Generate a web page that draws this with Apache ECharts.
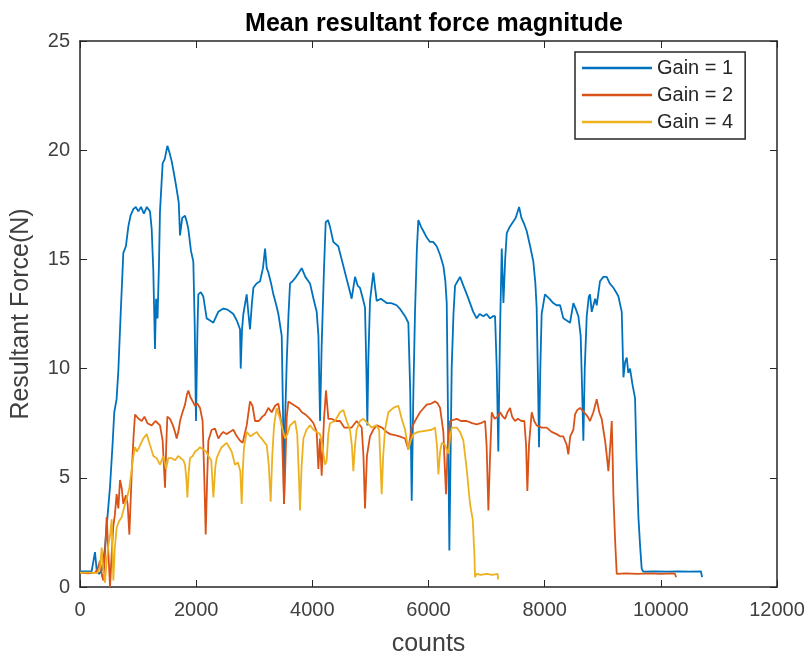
<!DOCTYPE html>
<html>
<head>
<meta charset="utf-8">
<script src="https://cdn.jsdelivr.net/npm/echarts@6/dist/echarts.min.js"></script>
<style>
html,body{margin:0;padding:0;background:#fff;}
#chart{width:810px;height:662px;}
</style>
</head>
<body>
<div id="chart"></div>
<script>
const seriesNames = ['Gain = 1', 'Gain = 2', 'Gain = 4'];
const seriesColors = ['#0072BD', '#D95319', '#EDB120'];
const xTicks = [0, 2000, 4000, 6000, 8000, 10000, 12000];
const yTicks = [0, 5, 10, 15, 20, 25];

const gain1Counts = [0,200,258,290,330,380,430,460,517,560,590,630,660,700,746,790,832,870,918,960,1004,1050,1100,1150,1205,1234,1262,1291,1310,1335,1360,1377,1423,1460,1504,1540,1578,1620,1665,1700,1722,1760,1808,1840,1865,1910,1951,1975,1997,2020,2037,2080,2123,2181,2240,2296,2380,2468,2540,2640,2700,2755,2767,2790,2812,2870,2900,2927,2960,2985,3040,3100,3150,3186,3215,3243,3290,3329,3380,3415,3473,3495,3513,3530,3559,3590,3616,3660,3720,3770,3817,3880,3960,4020,4075,4105,4133,4160,4200,4230,4270,4304,4361,4447,4505,4591,4640,4677,4735,4780,4820,4870,4907,4930,4947,4965,4993,5050,5108,5180,5280,5360,5452,5520,5596,5653,5685,5711,5740,5768,5800,5825,5870,5911,5970,6026,6080,6141,6200,6256,6290,6314,6335,6359,6380,6399,6430,6457,6500,6543,6600,6660,6715,6770,6830,6880,6945,7000,7060,7110,7146,7175,7202,7230,7261,7290,7320,7347,7400,7433,7500,7560,7600,7650,7691,7750,7805,7840,7862,7885,7903,7925,7948,8005,8080,8148,8205,8265,8322,8380,8437,8494,8540,8580,8620,8645,8666,8690,8724,8760,8781,8810,8838,8870,8896,8953,9010,9068,9120,9183,9230,9270,9327,9356,9385,9413,9440,9470,9510,9556,9580,9614,9645,9671,9700,9900,10100,10300,10500,10690,10710];
const gain1Force = [0.72,0.72,1.6,0.7,0.6,0.8,1.8,2.8,4.6,6.5,8.0,8.6,9.9,12.5,15.3,15.6,16.5,17.0,17.3,17.4,17.2,17.4,17.1,17.4,17.2,16.4,14.5,10.9,13.2,12.3,14.8,17.2,19.4,19.6,20.2,19.9,19.5,18.9,18.2,17.6,16.1,16.9,17.0,16.7,16.4,15.4,14.9,12.0,7.6,11.5,13.4,13.5,13.3,12.3,12.2,12.1,12.6,12.75,12.7,12.5,12.2,11.8,10.0,11.8,12.5,13.4,12.5,11.8,13.0,13.7,13.9,14.0,14.6,15.5,14.6,14.4,13.9,13.4,12.9,12.5,11.5,8.0,3.8,7.5,10.3,12.5,13.9,14.0,14.2,14.4,14.6,14.2,13.9,13.2,12.6,11.5,7.6,11.0,14.5,16.7,16.8,16.5,15.8,15.6,15.0,14.1,13.6,13.2,14.2,13.8,13.7,13.2,12.8,10.0,7.4,10.5,13.1,14.4,13.1,13.2,13.0,13.0,12.9,12.7,12.4,12.1,9.0,3.95,9.0,12.6,15.5,16.8,16.5,16.3,16.0,15.8,15.8,15.6,15.2,14.7,14.0,13.0,8.0,1.67,6.0,10.0,12.5,13.8,14.0,14.2,13.8,13.4,13.0,12.6,12.3,12.5,12.4,12.5,12.3,12.4,12.4,10.0,6.2,11.5,15.5,13.0,15.0,16.2,16.5,16.5,16.9,17.4,16.9,16.6,16.3,15.6,14.9,13.9,12.8,9.5,6.4,10.0,12.5,13.4,13.2,13.0,12.9,12.9,12.3,12.2,12.1,13.0,12.7,12.4,11.5,9.0,6.7,10.0,12.4,13.3,13.4,12.6,12.6,13.2,12.9,14.0,14.2,14.2,13.9,13.7,13.5,13.3,12.6,9.6,10.3,10.5,9.8,10.0,9.3,8.65,6.0,3.2,1.8,0.83,0.7,0.72,0.7,0.72,0.7,0.72,0.45];

const gain2Counts = [0,150,258,300,344,380,402,430,459,490,517,545,574,600,631,660,689,720,746,790,820,850,870,890,920,947,980,1010,1062,1110,1160,1234,1300,1377,1423,1445,1464,1485,1504,1550,1600,1636,1665,1700,1722,1765,1808,1840,1865,1900,1940,1980,2020,2066,2111,2140,2164,2190,2210,2267,2325,2382,2430,2468,2520,2580,2640,2700,2755,2800,2870,2927,2970,3014,3080,3140,3186,3243,3300,3360,3415,3450,3473,3495,3513,3540,3560,3588,3640,3700,3760,3820,3880,3960,4020,4075,4104,4132,4161,4201,4235,4276,4330,4400,4476,4550,4620,4677,4763,4850,4880,4907,4940,4993,5050,5108,5200,5280,5338,5420,5500,5596,5653,5711,5768,5854,5969,6050,6113,6160,6199,6256,6280,6302,6330,6371,6486,6560,6658,6750,6830,6900,6974,7000,7031,7060,7089,7140,7190,7232,7280,7318,7360,7404,7440,7490,7540,7600,7650,7680,7702,7730,7777,7820,7862,7950,8034,8120,8206,8265,8320,8380,8407,8440,8494,8523,8560,8609,8680,8740,8781,8838,8896,8940,8982,9010,9040,9070,9097,9130,9155,9170,9183,9215,9241,9400,9600,9800,10000,10200,10245,10262];
const gain2Force = [0.66,0.62,0.66,0.8,1.2,0.5,0.3,1.5,3.2,1.5,0.0,1.5,2.8,3.3,4.25,3.6,4.9,4.5,3.8,4.2,3.8,2.4,3.8,5.2,6.8,7.9,7.9,7.7,7.6,7.8,7.5,7.4,7.6,7.4,6.7,5.5,4.55,6.5,7.8,7.7,7.4,7.1,6.8,7.2,7.6,8.0,8.35,8.8,9.0,8.7,8.5,8.3,8.4,8.2,7.6,5.0,2.4,5.0,6.7,7.2,7.25,6.8,7.0,7.1,7.0,7.1,7.2,6.9,6.7,6.6,7.4,8.5,8.3,7.6,7.6,7.8,7.9,8.2,8.0,8.3,8.4,7.8,7.4,5.5,3.8,6.0,7.8,8.5,8.4,8.3,8.2,8.0,7.9,7.7,7.5,7.1,5.4,6.8,5.1,7.7,9.0,7.7,7.7,7.6,7.6,7.3,7.3,7.3,7.6,7.3,6.0,3.6,6.0,6.9,7.2,7.4,7.3,7.1,7.0,6.95,6.9,6.8,6.3,7.3,7.6,8.0,8.35,8.4,8.5,8.4,8.2,7.1,5.5,4.25,6.5,7.6,7.7,7.6,7.6,7.5,7.45,7.5,7.6,6.5,3.5,6.0,8.0,7.7,7.8,8.0,7.8,7.7,8.0,8.2,7.8,7.6,7.7,7.6,7.6,6.5,4.4,6.5,8.0,7.6,7.4,7.3,7.3,7.1,7.0,6.9,6.9,6.5,6.07,6.9,7.2,7.9,8.1,8.2,8.0,7.8,7.6,8.0,8.6,8.0,7.7,7.2,6.7,6.0,5.3,6.5,7.6,6.0,4.2,2.0,0.6,0.62,0.6,0.62,0.6,0.62,0.6,0.45];

const gain4Counts = [0,150,300,345,373,400,430,460,488,520,545,574,600,631,670,718,775,810,850,890,920,947,980,1020,1090,1148,1205,1263,1320,1377,1435,1481,1520,1580,1636,1690,1722,1780,1808,1830,1849,1870,1894,1940,1980,2030,2066,2123,2170,2210,2260,2296,2330,2353,2400,2439,2480,2525,2570,2611,2669,2720,2760,2784,2805,2824,2870,2930,2990,3043,3090,3129,3180,3215,3250,3283,3310,3341,3387,3420,3444,3490,3530,3570,3616,3660,3702,3740,3770,3788,3815,3846,3900,3960,4020,4075,4133,4170,4218,4247,4275,4304,4390,4476,4534,4591,4648,4680,4706,4735,4763,4820,4878,4950,5021,5100,5150,5175,5194,5220,5251,5309,5395,5481,5539,5596,5653,5694,5739,5825,5940,6055,6113,6145,6170,6200,6228,6285,6342,6370,6399,6486,6543,6600,6658,6715,6761,6790,6801,6830,6900,7000,7100,7190,7200];
const gain4Force = [0.66,0.66,0.64,0.9,1.8,0.8,0.2,1.2,1.9,2.4,3.1,0.3,1.8,2.7,3.0,3.2,3.8,4.1,4.55,5.4,6.0,6.4,6.2,6.4,6.8,7.0,6.5,6.0,5.9,5.6,6.0,5.4,5.9,5.9,5.8,6.0,6.0,5.8,5.6,5.0,4.1,5.2,5.9,6.0,6.2,6.3,6.4,6.3,6.2,6.0,5.8,4.1,5.5,5.9,6.2,6.4,6.5,6.6,6.4,6.2,5.6,5.7,5.3,3.8,5.5,6.4,7.1,6.9,7.0,7.1,6.9,6.8,6.6,6.5,5.6,3.9,6.0,7.4,8.2,7.9,7.7,7.2,6.8,7.0,7.4,7.5,7.6,7.0,5.0,3.5,5.5,6.8,7.2,7.4,7.2,7.1,7.0,6.5,5.6,5.8,7.0,7.5,7.6,8.0,8.1,7.6,7.2,6.5,5.3,6.5,7.2,7.6,7.7,7.5,7.3,7.4,7.2,5.5,4.25,6.0,7.2,8.0,8.2,8.3,7.7,7.2,6.3,6.7,7.0,7.1,7.15,7.2,7.3,6.5,5.15,6.2,6.6,6.5,6.1,6.8,7.3,7.3,7.1,6.7,5.4,3.8,3.1,1.5,0.45,0.6,0.55,0.6,0.55,0.6,0.35];

function zip(xs, ys) { return xs.map((x, i) => [x, ys[i]]); }
const seriesData = [zip(gain1Counts, gain1Force), zip(gain2Counts, gain2Force), zip(gain4Counts, gain4Force)];

const FONT = '"Liberation Sans", Arial, Helvetica, sans-serif';
const AX = '#262626';
const TXT = '#404040';

const chart = echarts.init(document.getElementById('chart'), null, {renderer: 'canvas'});
const option = {
  animation: false,
  backgroundColor: '#fff',
  textStyle: {fontFamily: FONT},
  title: {
    text: 'Mean resultant force magnitude',
    left: 429, top: 7, textAlign: 'center',
    textStyle: {fontFamily: FONT, fontSize: 25, fontWeight: 'bold', color: '#000'}
  },
  grid: {left: 80, right: 33, top: 41, bottom: 72, containLabel: false},
  legend: {
    data: seriesNames,
    orient: 'vertical',
    left: 575, top: 52,
    icon: 'rect', itemWidth: 70, itemHeight: 2.5, itemGap: 7,
    padding: [6, 12, 7, 7],
    borderColor: AX, borderWidth: 1.5, backgroundColor: '#fff',
    textStyle: {fontFamily: FONT, fontSize: 20, lineHeight: 20, color: '#262626'}
  },
  xAxis: [{
    type: 'value', min: xTicks[0], max: xTicks[xTicks.length - 1], interval: xTicks[1] - xTicks[0],
    position: 'bottom',
    name: 'counts', nameLocation: 'middle', nameGap: 45,
    nameTextStyle: {fontFamily: FONT, fontSize: 25, color: TXT},
    axisLine: {show: true, onZero: false, lineStyle: {color: AX, width: 1.5}},
    axisTick: {show: true, inside: true, length: 7, lineStyle: {color: AX, width: 1}},
    axisLabel: {fontFamily: FONT, fontSize: 20, color: TXT, margin: 13, formatter: v => String(v)},
    splitLine: {show: false}
  }, {
    type: 'value', min: xTicks[0], max: xTicks[xTicks.length - 1], interval: xTicks[1] - xTicks[0],
    position: 'top',
    axisLine: {show: true, onZero: false, lineStyle: {color: AX, width: 1.5}},
    axisTick: {show: true, inside: true, length: 7, lineStyle: {color: AX, width: 1}},
    axisLabel: {show: false},
    splitLine: {show: false}
  }],
  yAxis: [{
    type: 'value', min: yTicks[0], max: yTicks[yTicks.length - 1], interval: yTicks[1] - yTicks[0],
    position: 'left',
    name: 'Resultant Force(N)', nameLocation: 'middle', nameGap: 46,
    nameTextStyle: {fontFamily: FONT, fontSize: 25, color: TXT},
    axisLine: {show: true, onZero: false, lineStyle: {color: AX, width: 1.5}},
    axisTick: {show: true, inside: true, length: 7, lineStyle: {color: AX, width: 1}},
    axisLabel: {fontFamily: FONT, fontSize: 20, color: TXT, margin: 10, formatter: v => String(v)},
    splitLine: {show: false}
  }, {
    type: 'value', min: yTicks[0], max: yTicks[yTicks.length - 1], interval: yTicks[1] - yTicks[0],
    position: 'right',
    axisLine: {show: true, onZero: false, lineStyle: {color: AX, width: 1.5}},
    axisTick: {show: true, inside: true, length: 7, lineStyle: {color: AX, width: 1}},
    axisLabel: {show: false},
    splitLine: {show: false}
  }],
  series: seriesNames.map((name, i) => ({
    name: name,
    type: 'line',
    xAxisIndex: 0, yAxisIndex: 0,
    data: seriesData[i],
    symbol: 'none', showSymbol: false,
    color: seriesColors[i],
    lineStyle: {color: seriesColors[i], width: 1.8},
    z: 2 + i
  }))
};
chart.setOption(option);
</script>
</body>
</html>
